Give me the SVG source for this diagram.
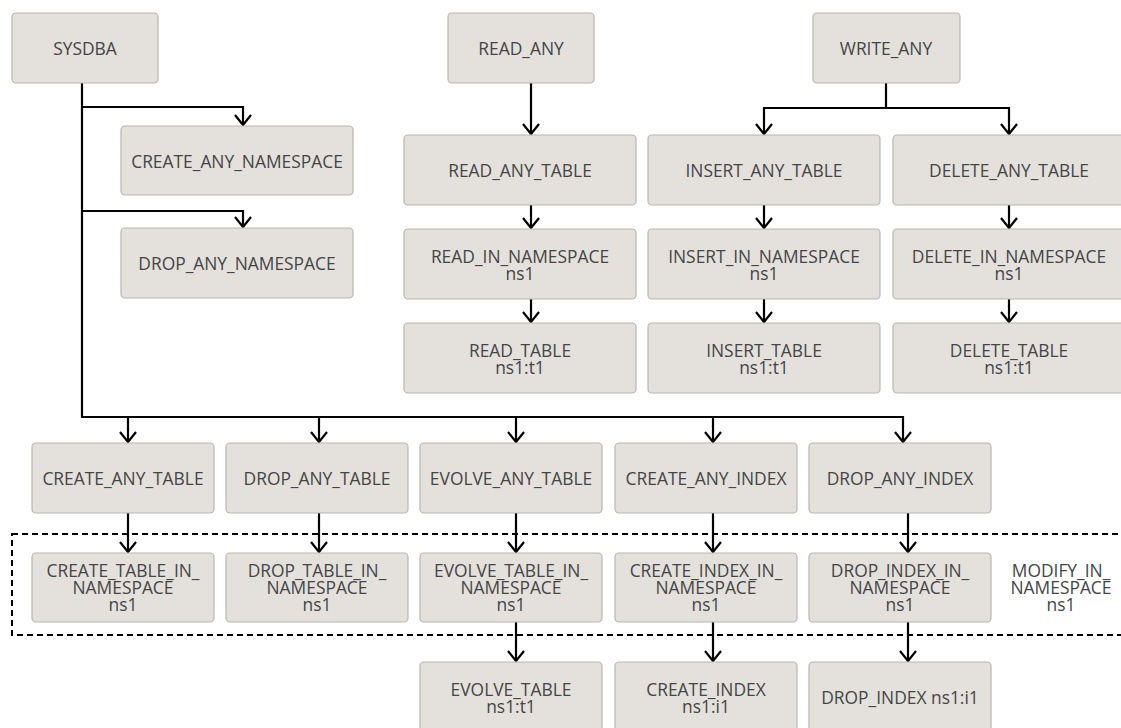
<svg xmlns="http://www.w3.org/2000/svg" width="1121" height="728" viewBox="0 0 1121 728">
<defs>
<style>
.n rect{fill:#e4e1dd;stroke:#b9b5af;stroke-width:1.2}
.n text,.lbl{font-family:"Open Sans","Noto Sans",sans-serif;font-size:17.4px;fill:#454545;text-anchor:middle}
.c path{fill:none;stroke:#000;stroke-width:2.2;marker-end:url(#ah)}
.dash{fill:none;stroke:#000;stroke-width:2;stroke-dasharray:6 4}
</style>
<marker id="ah" markerUnits="userSpaceOnUse" markerWidth="20" markerHeight="20" refX="11" refY="9" orient="auto" viewBox="0 0 20 20">
<path d="M1,1 L11,9 L1,17" fill="none" stroke="#000" stroke-width="2.2"/>
</marker>
</defs>
<rect width="1121" height="728" fill="#fff"/>
<rect class="dash" x="12" y="534" width="1120" height="101"/>
<g class="c">
<path d="M82,83 V417 H903 V442"/>
<path d="M82,107 H243 V125"/>
<path d="M82,211 H243 V227"/>
<path d="M128,417 V442"/>
<path d="M319,417 V442"/>
<path d="M516,417 V442"/>
<path d="M713,417 V442"/>
<path d="M128,513 V552"/>
<path d="M319,513 V552"/>
<path d="M516,513 V552"/>
<path d="M713,513 V552"/>
<path d="M908,513 V552"/>
<path d="M516,622 V661"/>
<path d="M713,622 V661"/>
<path d="M908,622 V661"/>
<path d="M531,83 V134"/>
<path d="M531,205 V228"/>
<path d="M531,299 V322"/>
<path d="M886,83 V108 H764 V134"/>
<path d="M886,108 H1009 V134"/>
<path d="M764,205 V228"/>
<path d="M764,299 V322"/>
<path d="M1009,205 V228"/>
<path d="M1009,299 V322"/>
</g>
<g id="sysdba" class="n"><rect x="12" y="13" width="146" height="70" rx="4"/><text x="85" y="55">SYSDBA</text></g>
<g id="create_any_namespace" class="n"><rect x="121" y="126" width="232" height="69" rx="4"/><text x="237" y="168">CREATE_ANY_NAMESPACE</text></g>
<g id="drop_any_namespace" class="n"><rect x="121" y="228" width="232" height="70" rx="4"/><text x="237" y="270">DROP_ANY_NAMESPACE</text></g>
<g id="read_any" class="n"><rect x="448" y="13" width="146" height="70" rx="4"/><text x="521" y="55">READ_ANY</text></g>
<g id="write_any" class="n"><rect x="813" y="13" width="147" height="70" rx="4"/><text x="886" y="55">WRITE_ANY</text></g>
<g id="read_any_table" class="n"><rect x="404" y="135" width="232" height="70" rx="4"/><text x="520" y="177">READ_ANY_TABLE</text></g>
<g id="insert_any_table" class="n"><rect x="648" y="135" width="232" height="70" rx="4"/><text x="764" y="177">INSERT_ANY_TABLE</text></g>
<g id="delete_any_table" class="n"><rect x="893" y="135" width="232" height="70" rx="4"/><text x="1009" y="177">DELETE_ANY_TABLE</text></g>
<g id="read_in_namespace" class="n"><rect x="404" y="229" width="232" height="70" rx="4"/><text x="520" y="263">READ_IN_NAMESPACE</text><text x="520" y="280">ns1</text></g>
<g id="insert_in_namespace" class="n"><rect x="648" y="229" width="232" height="70" rx="4"/><text x="764" y="263">INSERT_IN_NAMESPACE</text><text x="764" y="280">ns1</text></g>
<g id="delete_in_namespace" class="n"><rect x="893" y="229" width="232" height="70" rx="4"/><text x="1009" y="263">DELETE_IN_NAMESPACE</text><text x="1009" y="280">ns1</text></g>
<g id="read_table" class="n"><rect x="404" y="323" width="232" height="70" rx="4"/><text x="520" y="357">READ_TABLE</text><text x="520" y="374">ns1:t1</text></g>
<g id="insert_table" class="n"><rect x="648" y="323" width="232" height="70" rx="4"/><text x="764" y="357">INSERT_TABLE</text><text x="764" y="374">ns1:t1</text></g>
<g id="delete_table" class="n"><rect x="893" y="323" width="232" height="70" rx="4"/><text x="1009" y="357">DELETE_TABLE</text><text x="1009" y="374">ns1:t1</text></g>
<g id="create_any_table" class="n"><rect x="32" y="443" width="182" height="70" rx="4"/><text x="123" y="485">CREATE_ANY_TABLE</text></g>
<g id="drop_any_table" class="n"><rect x="226" y="443" width="182" height="70" rx="4"/><text x="317" y="485">DROP_ANY_TABLE</text></g>
<g id="evolve_any_table" class="n"><rect x="420" y="443" width="182" height="70" rx="4"/><text x="511" y="485">EVOLVE_ANY_TABLE</text></g>
<g id="create_any_index" class="n"><rect x="615" y="443" width="182" height="70" rx="4"/><text x="706" y="485">CREATE_ANY_INDEX</text></g>
<g id="drop_any_index" class="n"><rect x="809" y="443" width="182" height="70" rx="4"/><text x="900" y="485">DROP_ANY_INDEX</text></g>
<g id="create_table_in_namespace" class="n"><rect x="32" y="553" width="182" height="69" rx="4"/><text x="123" y="577">CREATE_TABLE_IN_</text><text x="123" y="594">NAMESPACE</text><text x="123" y="611">ns1</text></g>
<g id="drop_table_in_namespace" class="n"><rect x="226" y="553" width="182" height="69" rx="4"/><text x="317" y="577">DROP_TABLE_IN_</text><text x="317" y="594">NAMESPACE</text><text x="317" y="611">ns1</text></g>
<g id="evolve_table_in_namespace" class="n"><rect x="420" y="553" width="182" height="69" rx="4"/><text x="511" y="577">EVOLVE_TABLE_IN_</text><text x="511" y="594">NAMESPACE</text><text x="511" y="611">ns1</text></g>
<g id="create_index_in_namespace" class="n"><rect x="615" y="553" width="182" height="69" rx="4"/><text x="706" y="577">CREATE_INDEX_IN_</text><text x="706" y="594">NAMESPACE</text><text x="706" y="611">ns1</text></g>
<g id="drop_index_in_namespace" class="n"><rect x="809" y="553" width="182" height="69" rx="4"/><text x="900" y="577">DROP_INDEX_IN_</text><text x="900" y="594">NAMESPACE</text><text x="900" y="611">ns1</text></g>
<g id="evolve_table" class="n"><rect x="420" y="662" width="182" height="70" rx="4"/><text x="511" y="696">EVOLVE_TABLE</text><text x="511" y="713">ns1:t1</text></g>
<g id="create_index" class="n"><rect x="615" y="662" width="182" height="70" rx="4"/><text x="706" y="696">CREATE_INDEX</text><text x="706" y="713">ns1:i1</text></g>
<g id="drop_index" class="n"><rect x="809" y="662" width="182" height="70" rx="4"/><text x="900" y="704">DROP_INDEX ns1:i1</text></g>
<g id="modify_in_namespace"><text class="lbl" x="1061" y="577">MODIFY_IN_</text><text class="lbl" x="1061" y="594">NAMESPACE</text><text class="lbl" x="1061" y="611">ns1</text></g>
</svg>
